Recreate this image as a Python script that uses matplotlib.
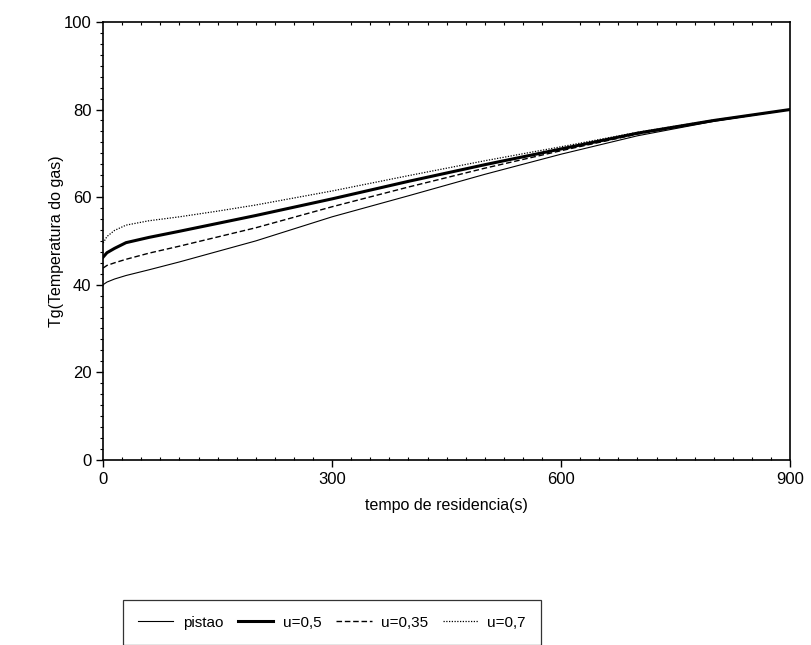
import matplotlib
matplotlib.use("Agg")
import matplotlib.pyplot as plt
from matplotlib.ticker import MultipleLocator

plt.rcParams['font.family'] = ['Liberation Sans', 'DejaVu Sans']

# tempo de residencia (s)
tempo = [0, 5, 15, 30, 60, 100, 150, 200, 300, 400, 500, 600, 700, 800, 900]

# Tg for each case
pistao = [40.0, 40.6, 41.3, 42.1, 43.4, 45.2, 47.6, 50.0, 55.5, 60.3, 65.2, 69.8, 74.0, 77.3, 80.0]
u_035 = [43.8, 44.4, 45.0, 45.8, 47.2, 48.8, 50.9, 53.0, 57.8, 62.3, 66.6, 70.6, 74.4, 77.4, 80.0]
u_05 = [46.3, 47.3, 48.3, 49.6, 50.8, 52.2, 54.0, 55.8, 59.6, 63.6, 67.4, 71.0, 74.6, 77.5, 80.0]
u_07 = [49.5, 51.0, 52.4, 53.6, 54.6, 55.5, 56.8, 58.2, 61.4, 64.9, 68.3, 71.5, 74.8, 77.6, 80.0]

fig = plt.figure(figsize=(8.12, 6.45), dpi=100)
ax = fig.add_axes([0.127, 0.287, 0.846, 0.679])

ax.plot(tempo, pistao, color='black', lw=0.8, label='pistao')
ax.plot(tempo, u_05, color='black', lw=2.2, label='u=0,5')
ax.plot(tempo, u_035, color='black', lw=1.0, ls=(0, (4, 2)), label='u=0,35')
ax.plot(tempo, u_07, color='black', lw=0.9, ls=(0, (1, 1.2)), label='u=0,7')

ax.set_xlim(0, 900)
ax.set_ylim(0, 100)
ax.set_xticks([0, 300, 600, 900])
ax.set_yticks([0, 20, 40, 60, 80, 100])
ax.yaxis.set_minor_locator(MultipleLocator(2.5))
ax.xaxis.set_minor_locator(MultipleLocator(25))
ax.tick_params(axis='both', which='major', direction='out', length=5, width=1,
               labelsize=12, colors='black')
ax.tick_params(axis='y', which='minor', direction='out', length=2, width=0.8)
ax.tick_params(axis='x', which='minor', direction='in', length=2, width=0.8, top=True)
for s in ax.spines.values():
    s.set_linewidth(1.2)

ax.set_xlabel("tempo de residencia(s)", fontsize=11.5, labelpad=8)
ax.set_ylabel("Tg(Temperatura do gas)", fontsize=11.5, labelpad=0)

leg = fig.legend(loc='upper center', bbox_to_anchor=(0.409, 0.081), ncol=4,
                 frameon=True, fancybox=False, edgecolor='black', fontsize=11,
                 handlelength=2.3, handletextpad=0.6, columnspacing=1.0,
                 borderpad=1.0)
leg.get_frame().set_linewidth(0.9)

fig.savefig("out.png", dpi=100)
